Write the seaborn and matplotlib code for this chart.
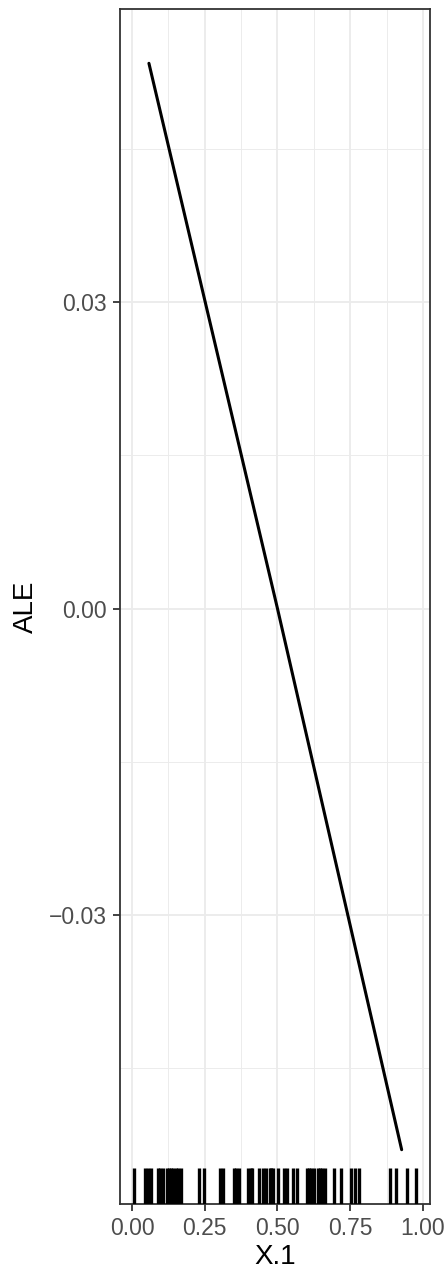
import numpy as np
import pandas as pd
import matplotlib
matplotlib.use("Agg")
import matplotlib.pyplot as plt
import seaborn as sns

# ALE curve
ale_x = [0.058, 0.500, 0.927]
ale_y = [0.0534, 0.0000, -0.0530]

# rug of observed X.1 values
rug_x = [0.007, 0.045, 0.055, 0.065, 0.089, 0.096, 0.106, 0.120, 0.127, 0.134,
         0.140, 0.151, 0.158, 0.168, 0.229, 0.247, 0.301, 0.312, 0.349, 0.356,
         0.366, 0.397, 0.408, 0.414, 0.438, 0.449, 0.462, 0.473, 0.479, 0.486,
         0.503, 0.524, 0.534, 0.555, 0.568, 0.603, 0.610, 0.616, 0.627, 0.640,
         0.647, 0.654, 0.664, 0.695, 0.719, 0.753, 0.767, 0.781, 0.887, 0.908,
         0.945, 0.976]

x_ticks = [0.00, 0.25, 0.50, 0.75, 1.00]
x_ticklabels = ["0.00", "0.25", "0.50", "0.75", "1.00"]
y_ticks = [-0.03, 0.00, 0.03]
y_ticklabels = ["\u22120.03", "0.00", "0.03"]

sns.set_theme(style="white")
plt.rcParams["font.family"] = ["Liberation Sans", "DejaVu Sans"]

fig = plt.figure(figsize=(4.45, 12.74), dpi=100)
W, H = 445, 1274
left, right, top, bottom = 120, 430, 9, 1204
ax = fig.add_axes([left / W, (H - bottom) / H, (right - left) / W, (bottom - top) / H])

line_df = pd.DataFrame({"x": ale_x, "y": ale_y})
rug_df = pd.DataFrame({"x": rug_x})

sns.lineplot(data=line_df, x="x", y="y", color="black", linewidth=2.2, ax=ax, zorder=3)
sns.rugplot(data=rug_df, x="x", height=0.03, color="black", linewidth=2.4, ax=ax,
            expand_margins=False, zorder=3)

# ggplot-like expansion
xmin, xmax = min(rug_x + ale_x), max(rug_x + ale_x)
ymin, ymax = min(ale_y), max(ale_y)
xr, yr = xmax - xmin, ymax - ymin
ax.set_xlim(xmin - 0.05 * xr, xmax + 0.05 * xr)
ax.set_ylim(ymin - 0.05 * yr, ymax + 0.05 * yr)

ax.set_xticks(x_ticks)
ax.set_xticklabels(x_ticklabels)
ax.set_yticks(y_ticks)
ax.set_yticklabels(y_ticklabels)
ax.set_xticks([0.125, 0.375, 0.625, 0.875], minor=True)
ax.set_yticks([-0.045, -0.015, 0.015, 0.045], minor=True)

ax.grid(which="major", color="#EBEBEB", lw=1.3, zorder=0)
ax.grid(which="minor", color="#EBEBEB", lw=0.65, zorder=0)
ax.set_axisbelow(True)

for s in ax.spines.values():
    s.set_color("#333333")
    s.set_linewidth(1.3)

ax.tick_params(which="major", length=5, width=1.3, color="#333333",
               labelcolor="#4D4D4D", labelsize=16.5, pad=4.3,
               bottom=True, left=True)
ax.tick_params(which="minor", length=0)

ax.set_xlabel("X.1", fontsize=20, color="black", labelpad=3)
ax.set_ylabel("ALE", fontsize=20, color="black", labelpad=7)

fig.savefig("out.png", dpi=100, facecolor="white")
